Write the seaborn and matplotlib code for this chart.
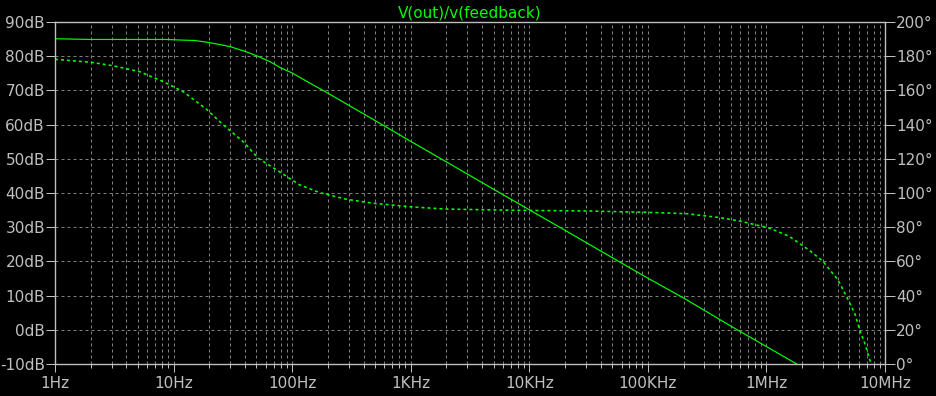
import matplotlib
matplotlib.use("Agg")
import matplotlib.pyplot as plt
import seaborn as sns
import numpy as np
import pandas as pd
from matplotlib.ticker import LogLocator, NullFormatter

# ---- data ----
gain_freq = [1, 2, 5, 8.5, 12, 15, 19, 23, 30, 41, 52, 65, 80, 100, 140, 200,
             500, 1e3, 2e3, 5e3, 1e4, 2e4, 5e4, 1e5, 2e5, 5e5, 1e6, 1.8e6]
gain_db = [85.1, 84.9, 84.9, 84.9, 84.7, 84.6, 84.1, 83.6, 82.8, 81.3, 79.9, 78.4,
           76.6, 75.1, 72.2, 69.2, 61.2, 55.1, 49.1, 41.1, 35.1, 29.1, 21.1,
           15.1, 9.3, 1.1, -4.9, -10.0]

phase_freq = [1, 2.04, 3.1, 5.2, 8.2, 12.1, 19, 26.3, 38.7, 51.8, 74, 116, 171,
              288, 483, 1050, 2006, 7313, 30400, 97500, 212000, 404000, 597000,
              1.07e6, 1.57e6, 2.32e6, 3.0e6, 4.02e6, 4.73e6, 5.56e6, 6.13e6,
              6.76e6, 7.45e6, 7.6e6]
phase_deg = [178.2, 176.4, 174.4, 170.9, 165.1, 159.2, 148.9, 139.8, 130.0, 120.3,
             113.5, 104.7, 100.2, 96.3, 94.0, 91.8, 90.6, 89.9, 89.5, 88.7, 87.9,
             85.6, 83.6, 79.4, 74.5, 66.3, 60.0, 49.1, 39.6, 29.6, 19.7, 12.1,
             2.3, 0.5]

x_ticks = [1, 10, 100, 1e3, 1e4, 1e5, 1e6, 1e7]
x_labels = ["1Hz", "10Hz", "100Hz", "1KHz", "10KHz", "100KHz", "1MHz", "10MHz"]
db_ticks = [-10, 0, 10, 20, 30, 40, 50, 60, 70, 80, 90]
db_labels = [f"{v}dB" for v in db_ticks]
deg_ticks = [0, 20, 40, 60, 80, 100, 120, 140, 160, 180, 200]
deg_labels = [f"{v}°" for v in deg_ticks]
title = "V(out)/v(feedback)"

# ---- style ----
plt.rcParams["font.family"] = ["DejaVu Sans"]
plt.rcParams["lines.scale_dashes"] = False
TXT = "#c0c0c0"
GRID = "#808080"
TRACE = "#00ff00"
px = 0.72  # one pixel in points at dpi 100

fig = plt.figure(figsize=(9.36, 3.96), dpi=100, facecolor="black")
ax = fig.add_axes([55/936, 1-364/396, (885-55)/936, (364-22)/396])
ax.set_facecolor("black")
ax2 = ax.twinx()

gain_df = pd.DataFrame({"f": gain_freq, "g": gain_db})
phase_df = pd.DataFrame({"f": phase_freq, "p": phase_deg})

sns.lineplot(data=gain_df, x="f", y="g", ax=ax, color=TRACE, linewidth=1.2*px)
sns.lineplot(data=phase_df, x="f", y="p", ax=ax2, color=TRACE, linewidth=1.6*px,
             linestyle=(0, (3*px, 3*px)))

for a in (ax, ax2):
    a.set_xscale("log")
    a.set_xlim(1, 1e7)
    a.set_xlabel("")
    a.set_ylabel("")
    for s in a.spines.values():
        s.set_color(TXT)
        s.set_linewidth(1.2*px)

ax.set_ylim(-10, 90)
ax2.set_ylim(0, 200)

ax.set_xticks(x_ticks, labels=x_labels)
ax.xaxis.set_minor_locator(LogLocator(base=10, subs=range(2, 10), numticks=100))
ax.xaxis.set_minor_formatter(NullFormatter())
ax.set_yticks(db_ticks, labels=db_labels)
ax2.set_yticks(deg_ticks, labels=deg_labels)

ax.tick_params(axis="x", which="major", length=8*px, width=px, color=TXT,
               labelcolor=TXT, labelsize=11, pad=4*px, direction="out")
ax.tick_params(axis="x", which="minor", length=4*px, width=px, color=TXT,
               direction="out")
ax.tick_params(axis="y", which="major", length=9*px, width=px, color=TXT,
               labelcolor=TXT, labelsize=11, pad=1*px, direction="out")
ax2.tick_params(axis="y", which="major", length=10*px, width=px, color=TXT,
                labelcolor=TXT, labelsize=11, pad=1*px, direction="out")

ax.grid(True, which="both", axis="x", color=GRID, linewidth=px,
        linestyle=(0, (3*px, 3*px)))
ax.grid(True, which="major", axis="y", color=GRID, linewidth=px,
        linestyle=(0, (3*px, 3*px)))
ax.set_axisbelow(True)

ax.set_title(title, color=TRACE, fontsize=11, pad=3)

fig.savefig("out.png", dpi=100, facecolor="black")
